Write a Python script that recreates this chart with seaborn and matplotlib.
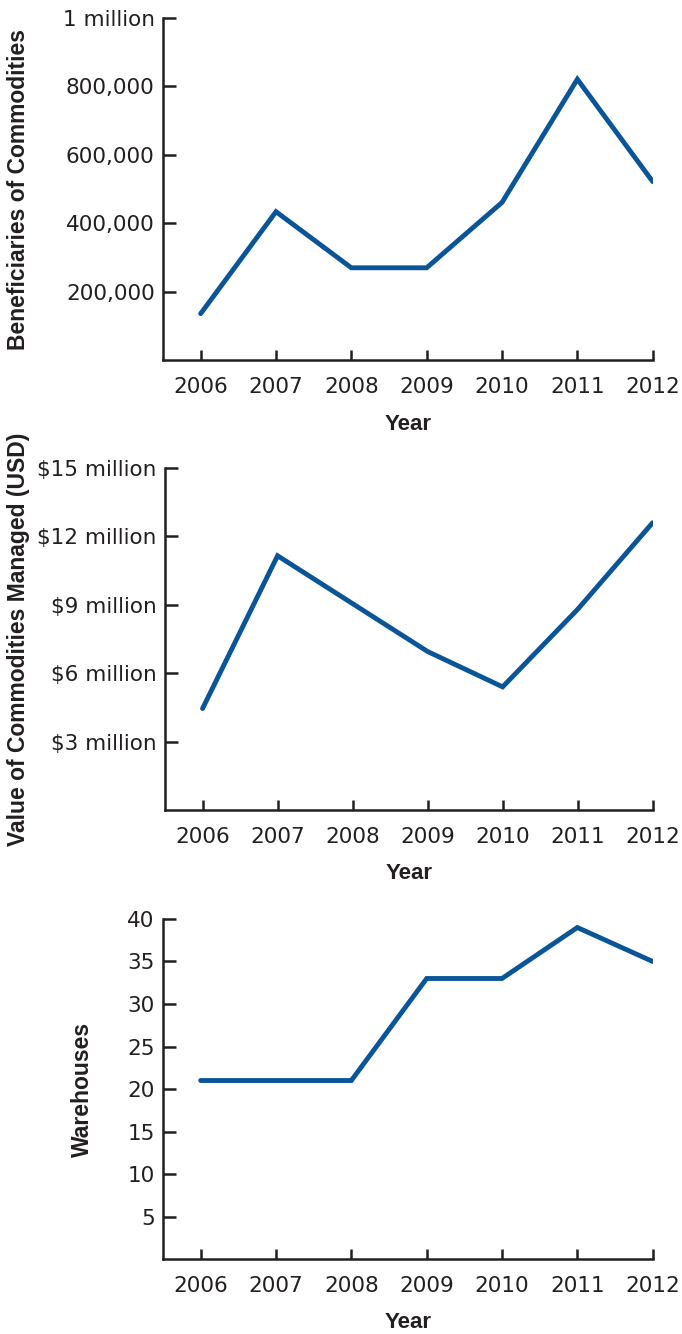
import numpy as np
import pandas as pd
import seaborn as sns
import matplotlib.pyplot as plt

years = [2006, 2007, 2008, 2009, 2010, 2011, 2012]
beneficiaries = [136000, 434000, 270000, 270000, 461000, 821000, 522000]
value_musd = [4.45, 11.15, 9.05, 6.95, 5.4, 8.8, 12.6]
warehouses = [21, 21, 21, 33, 33, 39, 35]

ben_ticks = [200000, 400000, 600000, 800000, 1000000]
ben_labels = ['200,000', '400,000', '600,000', '800,000', '1 million']
val_ticks = [3, 6, 9, 12, 15]
val_labels = ['$3 million', '$6 million', '$9 million', '$12 million', '$15 million']
wh_ticks = [5, 10, 15, 20, 25, 30, 35, 40]

df = pd.DataFrame({'Year': years, 'ben': beneficiaries, 'val': value_musd, 'wh': warehouses})

sns.set_style("white")
plt.rcParams['font.family'] = ['DejaVu Sans']

line_color = '#0a5598'
ink = '#231f20'
bold_font = ['Liberation Sans', 'DejaVu Sans']

fig = plt.figure(figsize=(6.82, 13.34), dpi=100)
ax1 = fig.add_axes([0.239, 0.730, 0.718, 0.2565])
ax2 = fig.add_axes([0.242, 0.3928, 0.715, 0.2564])
ax3 = fig.add_axes([0.239, 0.0562, 0.718, 0.2549])

panels = [
    (ax1, 'ben', (0, 1000000), ben_ticks, ben_labels, 'Beneficiaries of Commodities'),
    (ax2, 'val', (0, 15), val_ticks, val_labels, 'Value of Commodities Managed (USD)'),
    (ax3, 'wh', (0, 40), wh_ticks, [str(t) for t in wh_ticks], 'Warehouses'),
]

for ax, col, ylim, ticks, labels, ylabel in panels:
    sns.lineplot(ax=ax, data=df, x='Year', y=col, color=line_color, linewidth=3.5,
                 solid_capstyle='round', solid_joinstyle='miter')
    ax.set_xlim(2005.5, 2012)
    ax.set_ylim(*ylim)
    ax.set_xticks(years)
    ax.set_xticklabels([str(y) for y in years])
    ax.set_yticks(ticks)
    ax.set_yticklabels(labels)
    for s in ['top', 'right']:
        ax.spines[s].set_visible(False)
    for s in ['left', 'bottom']:
        ax.spines[s].set_color(ink)
        ax.spines[s].set_linewidth(1.8)
    ax.tick_params(axis='y', left=True, direction='in', length=9, width=1.8, color=ink,
                   labelsize=15.5, labelcolor=ink, pad=6)
    ax.tick_params(axis='x', bottom=True, direction='in', length=7, width=1.8, color=ink,
                   labelsize=15.5, labelcolor=ink, pad=12)
    ax.set_xlabel('Year', fontsize=16, fontweight='bold', color=ink, labelpad=12,
                  family=bold_font)
    ax.set_ylabel(ylabel, fontsize=16.5, fontweight='bold', color=ink, family=bold_font)
    ax.set_facecolor('white')

ax1.yaxis.set_label_coords(-0.271, 0.5)
ax2.yaxis.set_label_coords(-0.277, 0.5)
ax3.yaxis.set_label_coords(-0.141, 0.5)

fig.savefig('out.png', dpi=100, facecolor='white')
